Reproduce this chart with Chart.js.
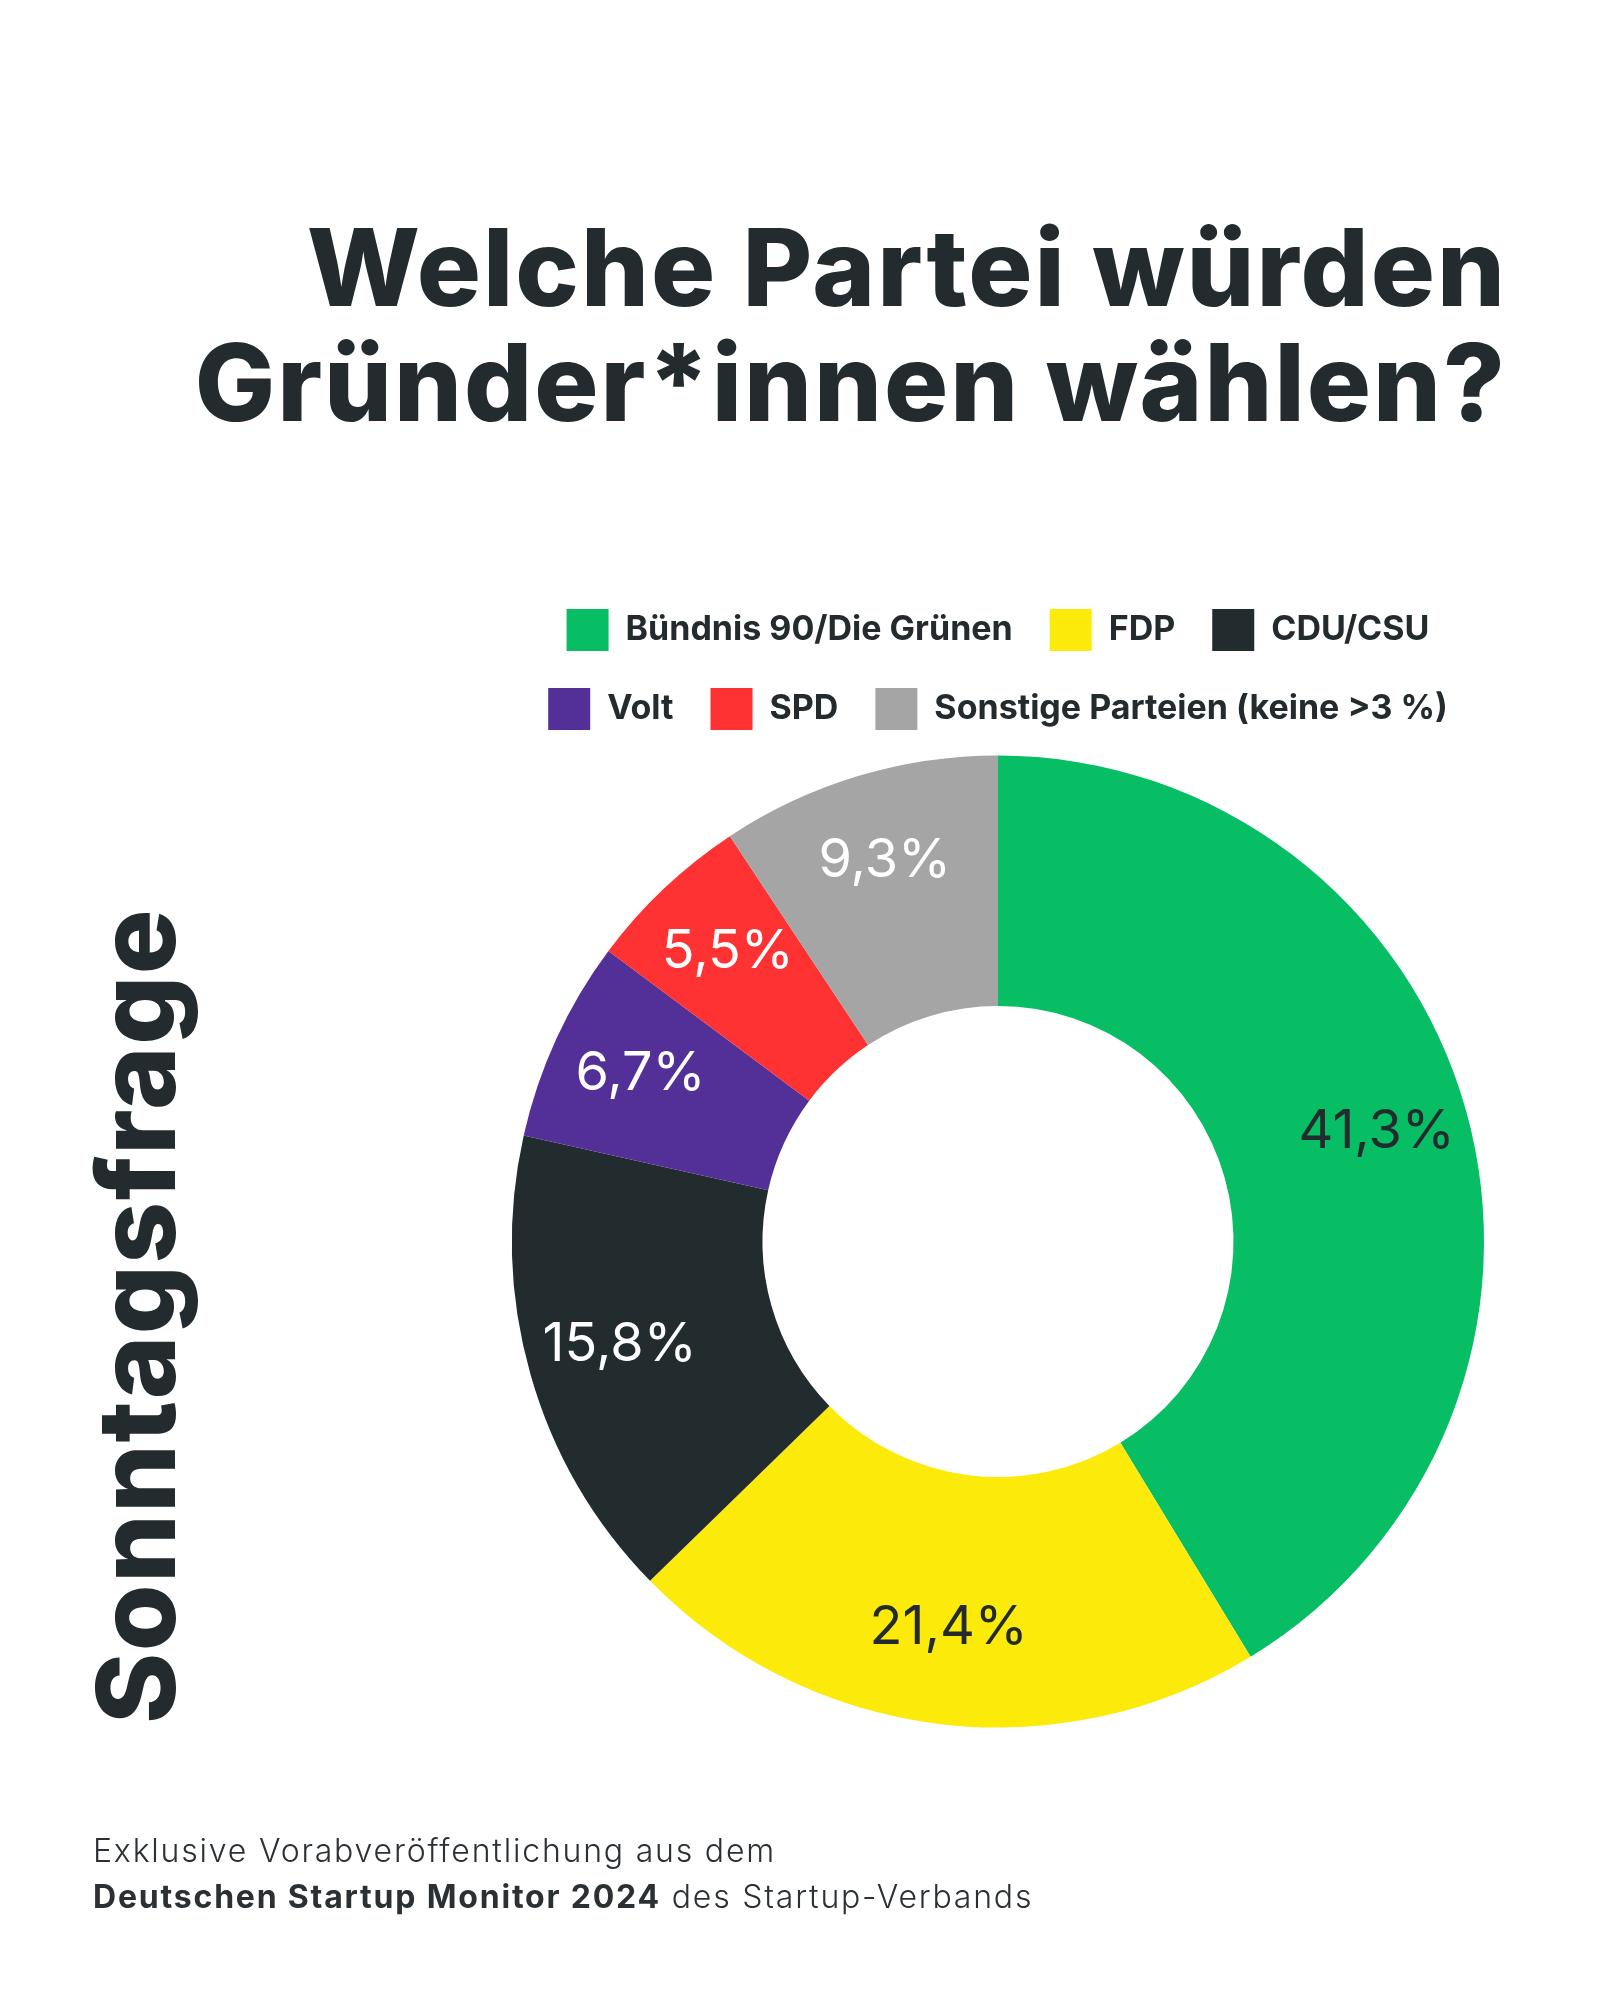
<!DOCTYPE html>
<html>
<head>
<meta charset="utf-8">
<script src="https://cdn.jsdelivr.net/npm/chart.js@4.4.1/dist/chart.umd.min.js"></script>
<style>
  html, body { margin: 0; padding: 0; background: #fff; }
  canvas { display: block; }
</style>
</head>
<body>
<canvas id="pieChart" width="1599" height="2000"></canvas>
<script>
const parties = ['Bündnis 90/Die Grünen', 'FDP', 'CDU/CSU', 'Volt', 'SPD', 'Sonstige Parteien (keine >3 %)'];
const shares = [41.3, 21.4, 15.8, 6.7, 5.5, 9.3];
const colors = ['#08be64', '#fbea0a', '#222c2f', '#532f98', '#fe3232', '#a5a5a5'];
const labelColors = ['#232b2e', '#232b2e', '#ffffff', '#ffffff', '#ffffff', '#ffffff'];

const titleLines = ['Welche Partei würden', 'Gründer*innen wählen?'];
const sideText = 'Sonntagsfrage';
const footLine1 = 'Exklusive Vorabveröffentlichung aus dem';
const footBold = 'Deutschen Startup Monitor 2024';
const footRest = ' des Startup-Verbands';

const ink = '#232b2e';
const FONT = 'Inter, "Noto Sans", sans-serif';

// percent labels inside the ring
const sliceLabels = {
  id: 'sliceLabels',
  afterDatasetsDraw(chart) {
    const ctx = chart.ctx;
    const meta = chart.getDatasetMeta(0);
    ctx.save();
    ctx.font = '400 54px ' + FONT;
    ctx.textAlign = 'center';
    ctx.textBaseline = 'middle';
    meta.data.forEach((arc, i) => {
      const p = arc.getProps(['x', 'y', 'startAngle', 'endAngle', 'innerRadius', 'outerRadius'], true);
      const mid = (p.startAngle + p.endAngle) / 2;
      const r = p.innerRadius + (p.outerRadius - p.innerRadius) * 0.63;
      ctx.fillStyle = labelColors[i];
      ctx.fillText(shares[i].toFixed(1).replace('.', ',') + '%', p.x + Math.cos(mid) * r, p.y + Math.sin(mid) * r - 4);
    });
    ctx.restore();
  }
};

// title, side caption and footer
const pageText = {
  id: 'pageText',
  afterDraw(chart) {
    const ctx = chart.ctx;
    ctx.save();
    ctx.fillStyle = ink;
    ctx.textBaseline = 'alphabetic';

    ctx.font = '800 107px ' + FONT;
    ctx.letterSpacing = '2px';
    ctx.textAlign = 'right';
    ctx.fillText(titleLines[0], 1507, 306);
    ctx.fillText(titleLines[1], 1507, 421);

    ctx.save();
    ctx.translate(175, 1724);
    ctx.rotate(-Math.PI / 2);
    ctx.textAlign = 'left';
    ctx.font = '800 108px ' + FONT;
    ctx.letterSpacing = '1.5px';
    ctx.fillText(sideText, 0, 0);
    ctx.restore();

    ctx.textAlign = 'left';
    ctx.fillStyle = '#2a3033';
    ctx.letterSpacing = '1.8px';
    ctx.font = '300 32px ' + FONT;
    ctx.fillText(footLine1, 93, 1862);
    ctx.font = '700 32px ' + FONT;
    ctx.fillText(footBold, 93, 1908);
    const w = ctx.measureText(footBold).width;
    ctx.font = '300 32px ' + FONT;
    ctx.fillText(footRest, 93 + w, 1908);
    ctx.restore();
  }
};

new Chart(document.getElementById('pieChart'), {
  type: 'doughnut',
  data: {
    labels: parties,
    datasets: [{
      data: shares,
      backgroundColor: colors,
      borderWidth: 0,
      radius: 486,
      cutout: 243
    }]
  },
  options: {
    responsive: false,
    animation: false,
    layout: {
      padding: { top: 572, bottom: 257, left: 468, right: 71 }
    },
    plugins: {
      tooltip: { enabled: false },
      legend: {
        position: 'top',
        labels: {
          boxWidth: 42,
          boxHeight: 42,
          padding: 37,
          color: ink,
          font: { family: FONT, size: 34, weight: '700' }
        }
      }
    }
  },
  plugins: [sliceLabels, pageText]
});
</script>
</body>
</html>
